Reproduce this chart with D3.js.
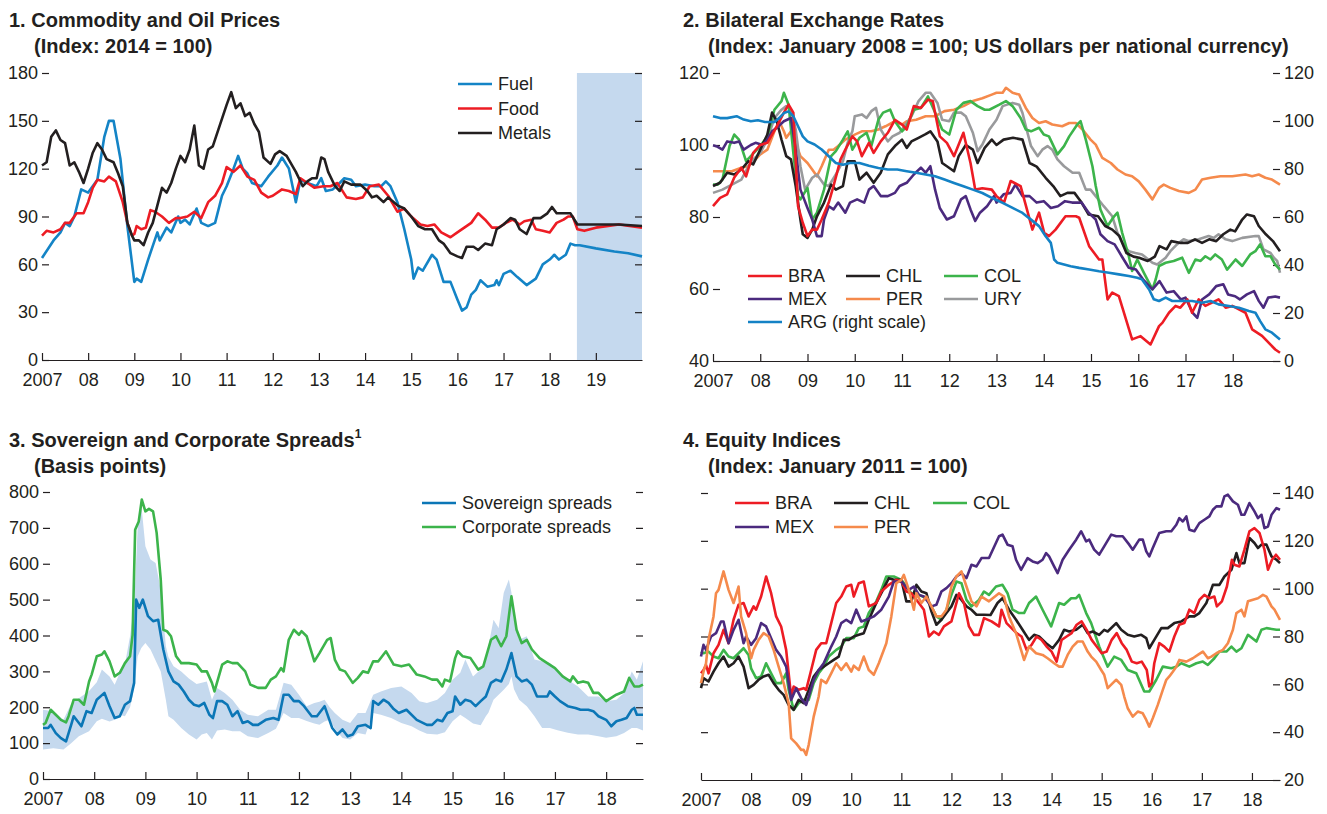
<!DOCTYPE html>
<html>
<head>
<meta charset="utf-8">
<script src="https://cdn.jsdelivr.net/npm/d3@7"></script>
<style>
  body { margin: 0; background: #fff; }
  svg text { font-family: "Liberation Sans", Arial, sans-serif; fill: #231f20; }
</style>
</head>
<body>
<svg id="chart" width="1327" height="814"></svg>
<script>
// ---- Panel 1: commodity prices (index, 2014 = 100) ----
const fuel = [[2007.0,64],[2007.25,75],[2007.4,80],[2007.5,86],[2007.6,84],[2007.7,90],[2007.85,107],[2008.0,105],[2008.2,113],[2008.35,140],[2008.45,150],[2008.55,150],[2008.7,126],[2008.85,84],[2009.0,49],[2009.05,51],[2009.15,49],[2009.3,63],[2009.5,80],[2009.55,75],[2009.7,83],[2009.8,80],[2009.95,90],[2010.0,86],[2010.1,88],[2010.2,85],[2010.35,95],[2010.45,86],[2010.6,84],[2010.75,86],[2010.9,103],[2011.0,109],[2011.15,120],[2011.25,128],[2011.35,120],[2011.45,117],[2011.55,111],[2011.75,109],[2011.9,115],[2012.1,122],[2012.2,127],[2012.35,120],[2012.5,99],[2012.6,113],[2012.75,111],[2012.95,109],[2013.05,114],[2013.15,106],[2013.3,107],[2013.45,111],[2013.55,114],[2013.7,113],[2013.8,109],[2014.0,110],[2014.2,109],[2014.35,109],[2014.45,112],[2014.55,109],[2014.7,99],[2014.85,82],[2015.0,63],[2015.05,51],[2015.15,58],[2015.25,56],[2015.45,66],[2015.55,63],[2015.7,49],[2015.85,49],[2016.0,38],[2016.1,31],[2016.2,33],[2016.3,41],[2016.4,44],[2016.5,50],[2016.65,46],[2016.8,47],[2016.85,50],[2016.9,47],[2017.0,54],[2017.15,56],[2017.3,52],[2017.5,47],[2017.7,51],[2017.85,60],[2018.0,63],[2018.1,66],[2018.2,63],[2018.35,66],[2018.45,73],[2018.55,72],[2018.65,72],[2019.0,70],[2019.4,68],[2019.7,67],[2020.0,65]];
const food = [[2007.0,78],[2007.1,81],[2007.25,80],[2007.4,82],[2007.5,86],[2007.6,86],[2007.75,92],[2007.9,92],[2008.0,99],[2008.1,108],[2008.2,113],[2008.35,112],[2008.45,115],[2008.6,112],[2008.75,99],[2008.85,86],[2008.95,78],[2009.0,79],[2009.05,84],[2009.15,82],[2009.25,83],[2009.35,94],[2009.45,93],[2009.6,90],[2009.75,86],[2009.9,89],[2010.0,89],[2010.15,90],[2010.3,93],[2010.45,89],[2010.6,99],[2010.75,103],[2010.9,111],[2011.0,121],[2011.15,118],[2011.3,122],[2011.45,115],[2011.6,113],[2011.75,105],[2011.9,102],[2012.0,103],[2012.2,107],[2012.35,106],[2012.5,104],[2012.6,114],[2012.75,111],[2012.9,108],[2013.1,109],[2013.25,109],[2013.4,111],[2013.6,102],[2013.8,101],[2013.95,102],[2014.1,109],[2014.3,110],[2014.5,103],[2014.7,93],[2014.85,95],[2015.0,90],[2015.2,85],[2015.35,84],[2015.5,85],[2015.65,80],[2015.85,77],[2016.0,80],[2016.15,83],[2016.3,86],[2016.45,92],[2016.6,88],[2016.75,83],[2016.9,83],[2017.05,86],[2017.2,88],[2017.35,85],[2017.45,87],[2017.6,88],[2017.7,82],[2017.85,81],[2018.0,80],[2018.15,86],[2018.3,88],[2018.4,90],[2018.5,90],[2018.6,82],[2018.75,81],[2019.0,83],[2019.5,85],[2020.0,83]];
const metals = [[2007.0,122],[2007.1,124],[2007.2,140],[2007.3,144],[2007.4,138],[2007.5,136],[2007.6,122],[2007.7,124],[2007.8,118],[2007.9,111],[2008.0,120],[2008.1,130],[2008.2,136],[2008.3,132],[2008.4,126],[2008.55,124],[2008.65,117],[2008.75,109],[2008.85,86],[2008.95,78],[2009.0,75],[2009.1,75],[2009.2,72],[2009.3,80],[2009.4,86],[2009.5,97],[2009.6,108],[2009.7,105],[2009.8,111],[2009.9,120],[2010.0,128],[2010.1,124],[2010.2,132],[2010.3,147],[2010.4,122],[2010.5,120],[2010.6,132],[2010.7,134],[2010.85,147],[2011.0,160],[2011.1,168],[2011.2,158],[2011.3,161],[2011.4,153],[2011.5,155],[2011.6,148],[2011.7,143],[2011.8,127],[2011.95,123],[2012.05,129],[2012.15,131],[2012.3,128],[2012.5,118],[2012.65,109],[2012.75,112],[2012.85,114],[2012.95,114],[2013.05,127],[2013.12,126],[2013.2,118],[2013.35,109],[2013.45,106],[2013.55,112],[2013.7,110],[2013.9,110],[2014.05,106],[2014.15,102],[2014.25,103],[2014.4,99],[2014.5,102],[2014.7,97],[2014.85,95],[2015.0,90],[2015.15,84],[2015.3,82],[2015.45,82],[2015.6,75],[2015.7,73],[2015.85,67],[2016.0,65],[2016.1,64],[2016.2,71],[2016.35,71],[2016.45,69],[2016.6,73],[2016.75,72],[2016.85,82],[2017.0,85],[2017.15,89],[2017.25,88],[2017.35,82],[2017.5,79],[2017.65,89],[2017.8,89],[2017.95,92],[2018.05,96],[2018.15,92],[2018.3,92],[2018.45,92],[2018.6,85],[2019.0,85],[2019.5,85],[2020.0,84]];
const forecastStart = 2018.59;

// ---- Panel 2: exchange rates (left scale) and ARG (right scale) ----
const bra2 = [[2007.0,83],[2007.15,85.3],[2007.3,86.3],[2007.45,91],[2007.6,93.7],[2007.7,91.3],[2007.85,97.8],[2008.0,100],[2008.15,100.6],[2008.35,105.2],[2008.5,109],[2008.6,111.2],[2008.7,109],[2008.8,83],[2008.9,78.4],[2009.0,74.7],[2009.1,76.5],[2009.2,76.5],[2009.3,79.3],[2009.45,84],[2009.55,88.6],[2009.7,96],[2009.8,98.7],[2009.95,102.4],[2010.05,101],[2010.15,96.9],[2010.3,100.6],[2010.4,97.8],[2010.55,101],[2010.7,103.4],[2010.85,107],[2011.0,105.7],[2011.1,104.3],[2011.25,110.8],[2011.4,110.3],[2011.55,112.6],[2011.65,112.2],[2011.8,102.4],[2011.95,100.6],[2012.1,96.9],[2012.3,103.4],[2012.45,95],[2012.55,87.6],[2012.7,88],[2012.9,87.6],[2013.0,85.8],[2013.16,84],[2013.3,90],[2013.51,88.6],[2013.76,76.5],[2013.9,81.2],[2014.01,75.6],[2014.11,74.7],[2014.25,76.5],[2014.46,80.2],[2014.68,80.2],[2014.75,79.8],[2014.96,71.9],[2015.17,68.2],[2015.24,68.2],[2015.35,57.1],[2015.45,59],[2015.59,58],[2015.87,46],[2016.05,46.9],[2016.26,44.6],[2016.44,49.7],[2016.51,50.6],[2016.65,53.4],[2016.79,55.3],[2016.89,54.8],[2017.04,57.1],[2017.14,53.4],[2017.28,57.1],[2017.42,55.3],[2017.56,56.2],[2017.7,57.1],[2017.85,54.8],[2017.99,55.3],[2018.27,53.4],[2018.41,48.8],[2018.62,47],[2018.9,43.2],[2019.0,42.3]];
const chl2 = [[2007.0,88.6],[2007.15,89.5],[2007.3,92.3],[2007.45,91.8],[2007.6,93.2],[2007.75,95.5],[2007.85,94.6],[2008.0,98.7],[2008.15,102.9],[2008.25,109],[2008.35,106.6],[2008.45,101.5],[2008.55,96.9],[2008.65,96],[2008.75,88.6],[2008.85,79.3],[2008.9,75.2],[2009.0,74.2],[2009.1,76.5],[2009.2,80.2],[2009.35,84],[2009.5,89],[2009.6,87.6],[2009.75,88.6],[2009.85,95.5],[2010.0,95.5],[2010.1,90.4],[2010.25,92.3],[2010.4,89.5],[2010.55,92.3],[2010.7,97.4],[2010.85,99.7],[2011.0,101.5],[2011.1,99.2],[2011.2,101],[2011.35,102],[2011.5,103],[2011.6,103.8],[2011.75,101],[2011.85,95],[2011.95,94.1],[2012.1,92.7],[2012.2,96.9],[2012.35,100],[2012.5,98.7],[2012.6,95],[2012.75,99.2],[2012.9,101.5],[2013.0,100],[2013.15,101.5],[2013.35,102],[2013.55,101.5],[2013.7,95],[2013.85,94],[2014.04,90.9],[2014.2,88.6],[2014.35,85.8],[2014.5,86.7],[2014.65,86.7],[2014.8,84],[2014.95,80.7],[2015.15,80.2],[2015.3,77.5],[2015.45,76.5],[2015.6,74.7],[2015.75,70],[2015.9,69],[2016.02,68.7],[2016.2,67.8],[2016.35,69],[2016.45,71.9],[2016.6,71],[2016.7,73.3],[2016.9,72.8],[2017.05,72.8],[2017.2,73.8],[2017.35,72.8],[2017.5,73.8],[2017.65,73.3],[2017.8,75.2],[2017.95,76.5],[2018.05,76],[2018.2,79.3],[2018.3,80.7],[2018.45,80.2],[2018.55,77.5],[2018.7,75.2],[2018.85,73.3],[2019.0,70.5]];
const col2 = [[2007.0,89],[2007.1,89],[2007.2,90.4],[2007.35,99.7],[2007.45,102.9],[2007.55,101.5],[2007.7,95.5],[2007.8,96.9],[2008.0,99.7],[2008.15,102.4],[2008.3,109.8],[2008.45,112.2],[2008.5,114.5],[2008.6,111.2],[2008.7,97.8],[2008.8,85.8],[2008.85,84.9],[2009.0,88.1],[2009.1,79.3],[2009.2,81.2],[2009.35,87.6],[2009.5,96.9],[2009.6,98.3],[2009.75,101.5],[2009.85,103.8],[2009.95,98.7],[2010.1,102],[2010.25,103.4],[2010.35,99.7],[2010.5,107],[2010.6,109],[2010.75,109.8],[2010.85,106.6],[2011.0,103.8],[2011.1,105.2],[2011.25,109.8],[2011.4,110.3],[2011.55,113.5],[2011.7,109],[2011.85,104.3],[2012.0,102.9],[2012.15,109.8],[2012.3,111.7],[2012.45,112.2],[2012.6,110.8],[2012.75,109.8],[2012.85,109.8],[2013.06,111.2],[2013.2,112.2],[2013.34,110.8],[2013.51,107.5],[2013.62,104.3],[2013.73,103.8],[2013.9,104.8],[2014.0,102.9],[2014.11,102.4],[2014.29,97.4],[2014.43,99.7],[2014.54,102.4],[2014.71,105.7],[2014.78,106.6],[2014.89,101.5],[2015.03,94.1],[2015.1,88.6],[2015.2,82.1],[2015.35,77.5],[2015.49,80.2],[2015.56,81.2],[2015.66,75.6],[2015.8,69.1],[2015.87,65],[2015.98,68.2],[2016.12,64.5],[2016.3,59.9],[2016.37,62.7],[2016.44,66.4],[2016.58,67.3],[2016.75,67.8],[2016.93,68.7],[2017.07,64.5],[2017.21,68.2],[2017.32,67.8],[2017.42,69.1],[2017.53,68.2],[2017.63,69.6],[2017.77,68.2],[2017.88,65.4],[2018.06,68.2],[2018.2,66.4],[2018.37,69.6],[2018.48,70.5],[2018.58,72.4],[2018.69,69.1],[2018.8,69.1],[2018.9,66.8],[2019.0,65.4]];
const mex2 = [[2007.0,99.9],[2007.1,99.5],[2007.2,98.7],[2007.3,101],[2007.45,100.6],[2007.55,101],[2007.65,98.7],[2007.8,100],[2007.9,100.6],[2008.05,100],[2008.15,101.5],[2008.25,103.8],[2008.35,104.8],[2008.5,106.6],[2008.65,107.5],[2008.75,98.7],[2008.85,87.6],[2009.0,82.5],[2009.1,79.3],[2009.2,74.7],[2009.3,74.7],[2009.35,79.3],[2009.45,83],[2009.55,82.1],[2009.65,84],[2009.8,81.2],[2009.9,84],[2010.05,84.9],[2010.2,84],[2010.3,87.6],[2010.4,88.6],[2010.55,85.8],[2010.7,85.8],[2010.85,86.7],[2010.95,88.6],[2011.1,89.5],[2011.25,91.8],[2011.4,93.7],[2011.5,92.3],[2011.6,94.1],[2011.7,87.6],[2011.8,82.5],[2011.95,79.3],[2012.1,80.2],[2012.25,84.9],[2012.35,85.8],[2012.45,82.1],[2012.55,78.9],[2012.65,81.2],[2012.8,83],[2012.95,85.8],[2013.0,84],[2013.15,86.3],[2013.3,86.7],[2013.4,89],[2013.55,85.8],[2013.7,85.8],[2013.85,84],[2014.0,84.4],[2014.15,82.5],[2014.3,83],[2014.45,84.4],[2014.6,84],[2014.8,84],[2014.95,81.2],[2015.1,79.3],[2015.2,75.2],[2015.35,73.3],[2015.5,72.4],[2015.65,69.1],[2015.8,65.9],[2015.95,65.4],[2016.1,62.7],[2016.3,59.9],[2016.45,62.2],[2016.6,59],[2016.75,59.4],[2016.9,57.1],[2017.0,57.6],[2017.15,53.4],[2017.25,52],[2017.35,57.1],[2017.5,58.5],[2017.65,60.8],[2017.8,61.3],[2017.9,58.5],[2018.05,58],[2018.15,57.1],[2018.3,58.5],[2018.45,59.4],[2018.55,56.7],[2018.65,54.8],[2018.75,57.6],[2018.9,57.9],[2019.0,57.6]];
const per2 = [[2007.0,92.7],[2007.2,92.7],[2007.4,92.7],[2007.6,93.7],[2007.75,94.1],[2007.9,96],[2008.0,97.4],[2008.15,98.7],[2008.3,103.8],[2008.4,106.6],[2008.5,103.8],[2008.55,102],[2008.65,103.8],[2008.75,100.6],[2008.85,96.9],[2009.0,95],[2009.1,93.2],[2009.2,91.3],[2009.3,94.1],[2009.45,98.7],[2009.55,98.7],[2009.65,99.7],[2009.8,101.5],[2010.0,102.9],[2010.15,103.8],[2010.35,103.8],[2010.5,104.3],[2010.65,105.2],[2010.85,106.6],[2011.0,105.7],[2011.1,106.6],[2011.3,107],[2011.5,108],[2011.7,108],[2011.9,109.4],[2012.1,109.8],[2012.3,110.8],[2012.5,112.2],[2012.7,113],[2012.9,114],[2013.0,114.5],[2013.13,114.5],[2013.2,115.9],[2013.34,114.5],[2013.48,114],[2013.62,110.3],[2013.76,107.5],[2013.9,106.1],[2014.04,106.6],[2014.18,105.7],[2014.39,105.2],[2014.54,106.1],[2014.68,106.1],[2014.82,104.3],[2014.99,101.5],[2015.1,100.1],[2015.24,96.4],[2015.42,95],[2015.56,93.2],[2015.73,91.8],[2015.87,91.3],[2016.01,89.9],[2016.15,87.6],[2016.3,84.9],[2016.44,88.1],[2016.54,89],[2016.68,88.1],[2016.86,87.2],[2017.07,86.7],[2017.21,87.6],[2017.35,90.4],[2017.53,90.9],[2017.74,91.3],[2017.99,91.3],[2018.27,91.8],[2018.41,91.3],[2018.55,91.8],[2018.69,90.9],[2018.83,90.4],[2019.0,89]];
const ury2 = [[2007.0,86.7],[2007.2,87.6],[2007.4,89],[2007.6,90.4],[2007.75,94.1],[2007.85,96],[2008.0,97.8],[2008.15,101.5],[2008.3,107.5],[2008.45,109.8],[2008.55,110.8],[2008.65,109.8],[2008.75,104.3],[2008.85,94.1],[2008.95,87.6],[2009.1,90.9],[2009.2,91.8],[2009.35,89],[2009.45,88.6],[2009.6,91.8],[2009.75,95.5],[2009.85,100.6],[2009.95,103.8],[2010.0,108],[2010.15,108.5],[2010.25,107.5],[2010.35,109.4],[2010.45,110.3],[2010.55,104.3],[2010.7,101],[2010.8,102.4],[2010.95,103.4],[2011.1,106.1],[2011.2,108],[2011.35,112.2],[2011.5,114.5],[2011.6,114.5],[2011.75,111.7],[2011.85,107],[2012.0,106.6],[2012.1,109],[2012.25,109],[2012.35,108],[2012.5,103.4],[2012.6,98.3],[2012.7,100.1],[2012.85,104.3],[2013.0,107],[2013.13,110.8],[2013.34,111.7],[2013.48,111.2],[2013.55,108.9],[2013.62,105.2],[2013.73,99.7],[2013.87,96.9],[2013.97,98.7],[2014.08,99.7],[2014.18,98.7],[2014.29,96],[2014.43,94.1],[2014.61,92.3],[2014.75,92.3],[2014.89,87.6],[2014.99,87.6],[2015.1,85.8],[2015.27,83],[2015.45,80.2],[2015.56,75.6],[2015.7,71.9],[2015.8,70.5],[2015.94,70],[2016.08,69.6],[2016.3,67.3],[2016.4,66.8],[2016.58,68.7],[2016.68,70.5],[2016.82,72.4],[2016.96,73.8],[2017.07,73.3],[2017.28,73.8],[2017.49,74.7],[2017.6,74.2],[2017.7,75.2],[2017.85,73.8],[2017.99,73.3],[2018.2,74.2],[2018.48,74.7],[2018.55,74.7],[2018.65,71],[2018.8,70],[2018.87,68.7],[2018.94,67.8],[2019.0,64.5]];
const arg2 = [[2007.0,102],[2007.15,101.2],[2007.3,101.2],[2007.5,102],[2007.65,100.6],[2007.8,99.9],[2007.95,100.3],[2008.1,99.6],[2008.3,99.6],[2008.4,101.2],[2008.5,103.3],[2008.6,104],[2008.7,102],[2008.8,97.8],[2008.9,93.6],[2009.0,91.5],[2009.15,90.2],[2009.3,88.1],[2009.45,85.3],[2009.6,82.5],[2009.75,81.8],[2009.9,82.5],[2010.1,82.5],[2010.3,81.4],[2010.5,80.4],[2010.7,79.8],[2010.9,79.8],[2011.1,79.1],[2011.3,78.4],[2011.5,77.7],[2011.7,77],[2011.9,75.6],[2012.1,74.2],[2012.3,72.8],[2012.5,71.4],[2012.7,70],[2012.9,68],[2013.13,65.9],[2013.34,63.8],[2013.55,61.7],[2013.73,58.9],[2013.9,56.2],[2014.04,52],[2014.15,49.2],[2014.22,42.3],[2014.29,40.9],[2014.43,40.2],[2014.57,39.5],[2014.75,38.8],[2014.96,38.1],[2015.17,37.4],[2015.38,36.8],[2015.59,36.1],[2015.8,35.4],[2015.98,34.7],[2016.08,34],[2016.23,29.8],[2016.33,25.7],[2016.44,25],[2016.58,26.4],[2016.72,25],[2016.93,25],[2017.14,25],[2017.35,24.3],[2017.53,25],[2017.7,23.6],[2017.92,22.9],[2018.13,22.2],[2018.34,20.8],[2018.48,20.1],[2018.58,16.6],[2018.69,13.2],[2018.83,11.8],[2019.0,9]];

// ---- Panel 3: spreads (basis points) ----
const sovereign = [[2007.0,142],[2007.1,142],[2007.15,151],[2007.25,128],[2007.35,114],[2007.45,105],[2007.55,151],[2007.6,175],[2007.75,147],[2007.85,189],[2007.95,184],[2008.05,221],[2008.2,240],[2008.3,203],[2008.4,170],[2008.5,175],[2008.6,207],[2008.7,217],[2008.78,268],[2008.82,500],[2008.88,477],[2008.95,500],[2009.05,454],[2009.15,440],[2009.25,444],[2009.35,361],[2009.45,300],[2009.55,272],[2009.65,263],[2009.75,244],[2009.85,221],[2009.95,207],[2010.05,203],[2010.15,212],[2010.25,179],[2010.32,170],[2010.4,217],[2010.5,217],[2010.6,207],[2010.7,175],[2010.8,189],[2010.9,156],[2011.0,161],[2011.1,151],[2011.2,151],[2011.35,165],[2011.5,170],[2011.6,165],[2011.7,235],[2011.8,235],[2011.9,217],[2012.0,217],[2012.1,203],[2012.25,175],[2012.35,175],[2012.5,203],[2012.65,142],[2012.75,124],[2012.85,138],[2012.95,119],[2013.05,124],[2013.15,147],[2013.3,151],[2013.4,142],[2013.45,217],[2013.55,207],[2013.65,221],[2013.75,212],[2013.85,195],[2013.95,184],[2014.1,193],[2014.3,165],[2014.5,151],[2014.6,151],[2014.7,165],[2014.8,161],[2014.9,184],[2015.0,189],[2015.05,230],[2015.15,207],[2015.25,221],[2015.35,217],[2015.45,203],[2015.55,217],[2015.65,230],[2015.75,268],[2015.85,277],[2015.95,272],[2016.05,305],[2016.15,351],[2016.25,286],[2016.35,272],[2016.45,277],[2016.55,263],[2016.65,230],[2016.75,230],[2016.85,230],[2016.9,244],[2017.0,230],[2017.1,217],[2017.25,203],[2017.4,198],[2017.5,193],[2017.65,193],[2017.75,189],[2017.85,175],[2018.0,165],[2018.1,147],[2018.2,161],[2018.3,165],[2018.4,170],[2018.5,193],[2018.55,198],[2018.6,179],[2018.72,179]];
const corporate = [[2007.0,151],[2007.05,156],[2007.15,193],[2007.25,179],[2007.35,165],[2007.45,158],[2007.5,175],[2007.6,221],[2007.7,221],[2007.8,207],[2007.9,272],[2007.95,291],[2008.05,342],[2008.15,347],[2008.2,356],[2008.3,328],[2008.4,286],[2008.5,296],[2008.6,323],[2008.7,342],[2008.75,402],[2008.8,695],[2008.87,718],[2008.93,779],[2009.0,746],[2009.07,753],[2009.15,746],[2009.22,686],[2009.3,556],[2009.35,416],[2009.42,412],[2009.5,398],[2009.6,342],[2009.7,323],[2009.85,323],[2010.0,319],[2010.1,300],[2010.2,300],[2010.3,268],[2010.35,244],[2010.5,319],[2010.6,328],[2010.7,323],[2010.8,323],[2010.95,300],[2011.05,263],[2011.2,254],[2011.35,254],[2011.45,277],[2011.55,286],[2011.65,309],[2011.7,300],[2011.8,388],[2011.9,416],[2012.0,402],[2012.05,412],[2012.15,398],[2012.3,328],[2012.4,351],[2012.55,388],[2012.62,393],[2012.7,333],[2012.8,305],[2012.9,300],[2013.05,268],[2013.15,282],[2013.25,300],[2013.35,296],[2013.45,328],[2013.55,328],[2013.7,356],[2013.85,319],[2014.0,314],[2014.15,319],[2014.3,291],[2014.45,286],[2014.6,277],[2014.7,277],[2014.8,258],[2014.85,277],[2014.95,272],[2015.05,337],[2015.1,356],[2015.2,342],[2015.35,337],[2015.5,305],[2015.6,314],[2015.75,388],[2015.85,398],[2015.95,370],[2016.05,398],[2016.15,509],[2016.25,416],[2016.35,379],[2016.45,388],[2016.55,361],[2016.7,337],[2016.85,323],[2017.0,309],[2017.15,286],[2017.3,272],[2017.35,286],[2017.45,268],[2017.55,272],[2017.65,268],[2017.75,240],[2017.85,240],[2018.0,217],[2018.1,226],[2018.2,235],[2018.35,244],[2018.45,282],[2018.55,258],[2018.65,258],[2018.72,263]];
// [date, low, high] of the shaded range
const spreadRange = [[2007.0,82,193],[2007.2,86,189],[2007.4,82,165],[2007.55,100,210],[2007.7,119,225],[2007.9,133,245],[2008.05,161,270],[2008.15,168,305],[2008.3,160,286],[2008.4,165,263],[2008.5,179,296],[2008.6,175,319],[2008.7,200,398],[2008.75,230,450],[2008.78,260,481],[2008.85,342,704],[2008.92,365,765],[2009.0,379,649],[2009.1,361,612],[2009.2,330,602],[2009.3,300,528],[2009.4,220,370],[2009.45,175,340],[2009.55,165,314],[2009.7,142,300],[2009.85,124,280],[2010.0,110,265],[2010.1,124,268],[2010.2,128,272],[2010.3,110,221],[2010.4,135,254],[2010.55,138,240],[2010.7,133,221],[2010.85,133,193],[2011.0,119,179],[2011.2,114,175],[2011.4,128,193],[2011.55,140,193],[2011.7,184,268],[2011.85,170,263],[2012.0,170,235],[2012.15,162,203],[2012.3,155,212],[2012.4,151,215],[2012.5,160,221],[2012.6,165,200],[2012.7,140,184],[2012.85,114,165],[2013.0,110,156],[2013.15,128,184],[2013.3,124,184],[2013.45,184,235],[2013.6,179,244],[2013.8,170,254],[2014.0,156,258],[2014.2,147,240],[2014.35,135,217],[2014.5,126,212],[2014.7,124,221],[2014.85,130,240],[2015.0,161,277],[2015.15,179,296],[2015.25,170,333],[2015.4,155,286],[2015.55,150,305],[2015.65,175,340],[2015.7,185,370],[2015.8,221,444],[2015.9,235,421],[2016.0,249,519],[2016.1,265,556],[2016.15,286,520],[2016.2,250,444],[2016.3,221,388],[2016.45,203,398],[2016.6,175,333],[2016.75,142,328],[2016.9,142,323],[2017.05,136,305],[2017.25,129,277],[2017.45,124,258],[2017.65,124,230],[2017.85,119,230],[2018.0,115,217],[2018.2,119,221],[2018.35,128,240],[2018.5,142,300],[2018.6,142,277],[2018.72,135,328]];

// ---- Panel 4: equity indices (January 2011 = 100) ----
const bra4 = [[2007.0,64.6],[2007.05,66],[2007.1,68.1],[2007.15,64.6],[2007.25,73],[2007.35,76.5],[2007.45,82.8],[2007.55,77.2],[2007.65,87],[2007.75,93.3],[2007.85,94],[2007.95,88.4],[2008.05,92.6],[2008.1,91.2],[2008.2,96.7],[2008.3,105.1],[2008.4,98.1],[2008.5,88.4],[2008.6,84.2],[2008.7,74.4],[2008.8,54.9],[2008.85,59.1],[2008.95,57.7],[2009.05,58.4],[2009.1,57.7],[2009.2,66],[2009.3,74.4],[2009.4,77.2],[2009.5,77.2],[2009.6,85.6],[2009.7,94],[2009.8,96.7],[2009.9,100.9],[2010.0,101.6],[2010.05,96.7],[2010.15,102.3],[2010.25,103],[2010.35,92.6],[2010.5,94],[2010.6,98.8],[2010.75,101.6],[2010.9,103.7],[2011.0,103],[2011.1,98.8],[2011.2,98.1],[2011.35,94],[2011.45,91.2],[2011.55,80],[2011.65,82.1],[2011.75,80.7],[2011.85,84.2],[2012.0,86.3],[2012.1,94],[2012.15,98.1],[2012.25,94],[2012.35,84.2],[2012.45,80.7],[2012.55,80.7],[2012.65,87.7],[2012.8,86.3],[2012.95,84.2],[2013.0,91.2],[2013.1,85.6],[2013.2,83.5],[2013.3,81.4],[2013.4,80],[2013.5,74.4],[2013.6,76.5],[2013.7,80],[2013.8,78.6],[2013.9,75.8],[2014.0,73.7],[2014.1,69.5],[2014.2,78.6],[2014.3,80],[2014.4,81.4],[2014.5,84.9],[2014.6,86.3],[2014.7,82.8],[2014.8,78.6],[2014.9,75.8],[2015.0,73],[2015.1,73.7],[2015.2,78.6],[2015.3,81.4],[2015.4,77.2],[2015.5,74.4],[2015.6,69.5],[2015.7,68.8],[2015.8,69.5],[2015.9,66],[2015.95,59.1],[2016.0,60.5],[2016.05,68.8],[2016.15,77.2],[2016.25,75.8],[2016.35,73.7],[2016.45,80],[2016.55,84.9],[2016.65,85.6],[2016.75,91.2],[2016.85,89.8],[2016.95,95.3],[2017.05,97.4],[2017.15,96],[2017.25,96.7],[2017.3,92.6],[2017.4,94.7],[2017.5,100.9],[2017.6,112.1],[2017.65,110],[2017.75,109.3],[2017.85,116.3],[2017.95,124],[2018.05,125.3],[2018.15,123.3],[2018.25,116.3],[2018.32,107.9],[2018.4,112.1],[2018.48,114.2],[2018.56,112.1]];
const chl4 = [[2007.0,58.4],[2007.05,62.6],[2007.15,61.2],[2007.25,65.3],[2007.35,68.8],[2007.45,71.6],[2007.55,67.4],[2007.65,68.8],[2007.75,71.6],[2007.85,67.4],[2007.95,58.4],[2008.05,59.8],[2008.15,61.9],[2008.25,63.3],[2008.35,64],[2008.45,60.5],[2008.55,57.7],[2008.65,55.6],[2008.75,51.4],[2008.85,49.3],[2008.95,53.5],[2009.05,52.1],[2009.15,57.7],[2009.25,63.3],[2009.35,66],[2009.45,67.4],[2009.55,68.8],[2009.65,70.2],[2009.75,71.6],[2009.85,78.6],[2009.95,78.6],[2010.05,80],[2010.15,80.7],[2010.25,81.4],[2010.35,87],[2010.5,94],[2010.6,98.1],[2010.75,104.4],[2010.85,103.7],[2011.0,103.7],[2011.1,94.7],[2011.2,94.7],[2011.3,101.6],[2011.4,98.8],[2011.5,98.1],[2011.6,90.5],[2011.7,84.9],[2011.8,87],[2011.9,89.8],[2012.0,92.6],[2012.1,97.4],[2012.2,95.3],[2012.3,92.6],[2012.4,91.2],[2012.5,89.1],[2012.65,89.1],[2012.78,89],[2012.92,94],[2013.02,96],[2013.15,91.2],[2013.29,87],[2013.42,82.8],[2013.55,78.6],[2013.65,80.7],[2013.75,80],[2013.89,77.2],[2014.02,75.1],[2014.15,78.6],[2014.25,82.8],[2014.35,82.1],[2014.49,82.8],[2014.62,84.9],[2014.72,81.4],[2014.82,82.1],[2014.95,80.7],[2015.05,82.8],[2015.12,82.1],[2015.29,85.6],[2015.39,82.8],[2015.52,80.7],[2015.65,80],[2015.79,80.7],[2015.89,79.3],[2015.95,75.1],[2016.05,78.6],[2016.19,83.5],[2016.32,83.5],[2016.45,85.6],[2016.59,86.3],[2016.75,88.4],[2016.85,88.4],[2016.95,89.8],[2017.09,94],[2017.22,101.6],[2017.35,101.6],[2017.45,105.1],[2017.59,107.9],[2017.69,114.9],[2017.75,110.7],[2017.85,110.7],[2017.95,121.2],[2018.05,119.1],[2018.12,117],[2018.19,118.4],[2018.29,118.4],[2018.39,113.5],[2018.49,112.1],[2018.56,110.7]];
const col4 = [[2007.0,73.7],[2007.05,73],[2007.15,73.7],[2007.25,71.6],[2007.35,70.9],[2007.45,74.4],[2007.55,71.6],[2007.65,70.9],[2007.75,73],[2007.85,75.1],[2007.95,72.3],[2008.0,66.7],[2008.1,62.6],[2008.2,63.3],[2008.3,68.8],[2008.4,64.6],[2008.5,60.5],[2008.6,60.5],[2008.7,64.6],[2008.75,57.7],[2008.85,49.3],[2008.95,52.1],[2009.05,53.5],[2009.15,53.5],[2009.25,60.5],[2009.35,64.6],[2009.45,67.4],[2009.55,71.6],[2009.7,74.4],[2009.8,75.8],[2009.9,79.3],[2010.05,79.3],[2010.15,83.5],[2010.25,84.2],[2010.35,89.8],[2010.5,94.7],[2010.6,99.5],[2010.7,105.1],[2010.85,105.1],[2011.0,103.7],[2011.1,100.9],[2011.2,98.1],[2011.35,97.4],[2011.5,96],[2011.6,92.6],[2011.7,88.4],[2011.8,87],[2011.9,91.2],[2012.0,97.4],[2012.1,103],[2012.2,102.3],[2012.3,95.3],[2012.4,92.6],[2012.55,95.3],[2012.65,98.8],[2012.75,97.4],[2012.89,100.9],[2013.02,101.6],[2013.12,98.1],[2013.22,91.2],[2013.35,89.8],[2013.45,89.8],[2013.55,94],[2013.69,96.7],[2013.82,91.2],[2013.99,84.2],[2014.15,94],[2014.25,93.3],[2014.39,96],[2014.49,96],[2014.55,97.4],[2014.69,89.8],[2014.79,85.6],[2014.95,75.8],[2015.12,67.4],[2015.25,71.6],[2015.39,70.2],[2015.52,66],[2015.69,64.6],[2015.85,57],[2015.95,57],[2016.09,61.9],[2016.22,67.4],[2016.39,66.7],[2016.49,67.4],[2016.59,68.8],[2016.75,67.4],[2016.89,68.8],[2017.02,69.5],[2017.12,68.1],[2017.25,70.9],[2017.35,73.7],[2017.49,73.7],[2017.59,75.8],[2017.69,73.7],[2017.79,75.1],[2017.92,80.7],[2018.09,77.9],[2018.19,82.8],[2018.29,83.5],[2018.49,82.8],[2018.56,82.8]];
const mex4 = [[2007.0,71.6],[2007.05,76.5],[2007.1,74.4],[2007.2,80],[2007.3,81.4],[2007.4,86.3],[2007.45,86.3],[2007.55,77.2],[2007.65,82.8],[2007.75,87],[2007.85,77.2],[2007.9,80],[2008.0,76.5],[2008.1,79.3],[2008.2,85.6],[2008.3,84.2],[2008.4,79.3],[2008.5,74.4],[2008.6,71.6],[2008.7,67.4],[2008.8,53.5],[2008.9,58.4],[2009.0,54.2],[2009.1,51.4],[2009.15,54.9],[2009.25,61.9],[2009.35,66],[2009.45,68.8],[2009.6,75.8],[2009.7,80],[2009.8,85.6],[2009.9,87],[2010.0,85.6],[2010.1,91.2],[2010.2,86.3],[2010.3,87],[2010.45,88.4],[2010.6,91.2],[2010.75,96.7],[2010.85,103],[2011.0,103],[2011.15,99.5],[2011.25,100.9],[2011.35,97.4],[2011.45,96.7],[2011.6,92.6],[2011.7,93.3],[2011.8,98.8],[2011.9,100.2],[2012.0,102.3],[2012.1,105.1],[2012.2,106.5],[2012.3,104.4],[2012.4,110],[2012.5,109.3],[2012.6,112.8],[2012.75,112.8],[2012.95,121.9],[2013.02,122.6],[2013.12,118.4],[2013.22,117.7],[2013.29,112.1],[2013.39,107.9],[2013.52,112.8],[2013.62,111.4],[2013.72,110.7],[2013.82,112.1],[2013.89,114.9],[2013.95,113.5],[2014.05,109.3],[2014.12,106.5],[2014.22,112.1],[2014.35,116.3],[2014.49,120.5],[2014.59,124],[2014.69,119.8],[2014.75,120.5],[2014.85,116.3],[2014.95,114.2],[2015.05,117.7],[2015.19,122.6],[2015.29,121.9],[2015.42,121.9],[2015.55,118.4],[2015.62,116.3],[2015.75,120.5],[2015.82,120.5],[2015.89,115.6],[2015.95,113.5],[2016.02,117],[2016.15,123.3],[2016.29,124],[2016.39,124],[2016.49,126.7],[2016.55,129.5],[2016.62,128.1],[2016.69,130.2],[2016.75,124.6],[2016.85,124],[2016.95,127.4],[2017.05,128.8],[2017.15,130.2],[2017.22,133],[2017.29,134.4],[2017.39,134.4],[2017.45,138.6],[2017.52,139.3],[2017.62,136.5],[2017.72,135.1],[2017.79,130.9],[2017.85,130.9],[2017.95,135.8],[2018.05,132.3],[2018.12,129.5],[2018.19,130.9],[2018.25,125.3],[2018.32,126],[2018.39,130.9],[2018.49,133.7],[2018.56,133]];
const per4 = [[2007.0,60.5],[2007.05,65.3],[2007.1,68.8],[2007.15,78.6],[2007.25,88.4],[2007.3,98.1],[2007.35,99.5],[2007.45,107.2],[2007.55,99.5],[2007.65,94],[2007.75,100.9],[2007.8,88.4],[2007.9,81.4],[2008.0,70.9],[2008.05,74.4],[2008.15,78.6],[2008.25,81.4],[2008.35,80],[2008.45,74.4],[2008.55,67.4],[2008.65,60.5],[2008.75,52.1],[2008.8,37.4],[2008.9,35.3],[2009.0,32.6],[2009.05,32.6],[2009.1,30.5],[2009.15,34.7],[2009.25,46.5],[2009.35,54.9],[2009.4,61.9],[2009.5,60.5],[2009.6,64.6],[2009.7,68.8],[2009.8,66],[2009.9,68.8],[2010.0,65.3],[2010.05,67.8],[2010.15,66],[2010.25,71.6],[2010.35,66],[2010.45,64],[2010.55,68.8],[2010.7,77.2],[2010.8,88.4],[2010.9,102.3],[2011.0,103.7],[2011.05,105.8],[2011.15,99.5],[2011.25,91.2],[2011.3,98.1],[2011.4,94],[2011.5,96.7],[2011.6,92.6],[2011.7,88.4],[2011.8,88.4],[2011.9,91.2],[2012.0,100.9],[2012.1,105.1],[2012.2,107.2],[2012.3,100.9],[2012.4,94.7],[2012.5,92.6],[2012.6,96.7],[2012.75,94.7],[2012.95,98.1],[2013.05,96.7],[2013.15,88.4],[2013.29,81.4],[2013.39,74.4],[2013.45,70.2],[2013.55,75.8],[2013.69,73],[2013.82,72.3],[2013.92,70.9],[2014.05,68.8],[2014.15,67.4],[2014.22,67.4],[2014.32,72.3],[2014.42,75.8],[2014.52,77.9],[2014.62,77.9],[2014.72,73.7],[2014.79,71.6],[2014.89,69.5],[2014.99,66],[2015.05,64],[2015.12,58.4],[2015.22,60.5],[2015.29,61.9],[2015.39,59.8],[2015.45,54.9],[2015.52,50],[2015.62,46.5],[2015.72,48.6],[2015.82,47.9],[2015.89,45.1],[2015.95,42.3],[2016.02,45.8],[2016.12,51.4],[2016.22,57.7],[2016.29,61.9],[2016.35,63.3],[2016.42,65.3],[2016.49,67.4],[2016.55,70.2],[2016.69,69.5],[2016.82,70.9],[2016.92,72.3],[2017.02,73.7],[2017.12,70.9],[2017.19,71.6],[2017.29,73],[2017.42,74.4],[2017.52,77.2],[2017.62,82.8],[2017.69,89.8],[2017.79,91.2],[2017.85,88.4],[2017.92,94.7],[2018.02,95.4],[2018.12,96],[2018.22,97.4],[2018.29,96.7],[2018.39,92.6],[2018.45,91.2],[2018.56,87]];

const yearTicks = d3.range(2007, 2020);
const yearLabel = d => d === 2007 ? "2007" : d3.format("02d")(d % 100);

const svg = d3.select("#chart");
const ink = "#231f20";
const FS = 18;

function bottomAxis(g, x, y0, lastYear) {
    g.append("g")
        .attr("transform", `translate(0,${y0})`)
        .call(d3.axisBottom(x).tickValues(yearTicks.filter(d => d <= lastYear))
            .tickFormat(yearLabel).tickSize(-7).tickSizeOuter(0).tickPadding(13))
        .call(a => a.selectAll("line,path").attr("stroke", ink).attr("stroke-width", 1.2))
        .call(a => a.selectAll("text").attr("font-size", FS).attr("font-family", null));
}

function sideAxis(g, axisFn, y, xpos, values, labels) {
    g.append("g")
        .attr("transform", `translate(${xpos},0)`)
        .call(axisFn(y).tickValues(values).tickSize(-7).tickPadding(4)
            .tickFormat(labels ? d3.format("d") : ""))
        .call(a => a.select(".domain").remove())
        .call(a => a.selectAll("line").attr("stroke", ink).attr("stroke-width", 1.2))
        .call(a => a.selectAll("text").attr("font-size", FS).attr("font-family", null));
}

function drawLine(g, data, x, y, color) {
    g.append("path")
        .datum(data)
        .attr("fill", "none")
        .attr("stroke", color)
        .attr("stroke-width", 2.6)
        .attr("stroke-linejoin", "round")
        .attr("d", d3.line().x(d => x(d[0])).y(d => y(d[1])));
}

function legend(g, items, x0, y0, colW, rowH, perRow) {
    items.forEach((it, i) => {
        const lx = x0 + (i % perRow) * colW;
        const ly = y0 + Math.floor(i / perRow) * rowH;
        g.append("line").attr("x1", lx).attr("x2", lx + 34).attr("y1", ly).attr("y2", ly)
            .attr("stroke", it.color).attr("stroke-width", 2.6);
        g.append("text").attr("x", lx + 40).attr("y", ly).attr("dy", "0.35em")
            .attr("font-size", FS).text(it.name);
    });
}

function title(x, y, line1, line2) {
    const t = svg.append("text").attr("x", x).attr("y", y)
        .attr("font-size", 20).attr("font-weight", "bold").text(line1);
    svg.append("text").attr("x", x + 25).attr("y", y + 26)
        .attr("font-size", 20).attr("font-weight", "bold").text(line2);
    return t;
}

// ---------------- Panel 1 ----------------
{
    const g = svg.append("g");
    const x = d3.scaleLinear().domain([2007, 2020]).range([42, 642]);
    const y = d3.scaleLinear().domain([0, 180]).range([360, 73]);
    g.append("rect").attr("x", x(forecastStart)).attr("y", y(180))
        .attr("width", x(2020) - x(forecastStart)).attr("height", y(0) - y(180))
        .attr("fill", "#c5d9ee");
    sideAxis(g, d3.axisLeft, y, x(2007), d3.range(0, 181, 30), true);
    sideAxis(g, d3.axisRight, y, x(2020), d3.range(30, 181, 30), false);
    bottomAxis(g, x, y(0), 2019);
    drawLine(g, fuel, x, y, "#1484c6");
    drawLine(g, food, x, y, "#ed1c24");
    drawLine(g, metals, x, y, ink);
    legend(g, [{name: "Fuel", color: "#1484c6"}, {name: "Food", color: "#ed1c24"},
        {name: "Metals", color: ink}], 458, 84, 0, 24.5, 1);
    title(9, 27, "1. Commodity and Oil Prices", "(Index: 2014 = 100)");
}

// ---------------- Panel 2 ----------------
{
    const g = svg.append("g");
    const x = d3.scaleLinear().domain([2007, 2019]).range([713, 1280]);
    const y = d3.scaleLinear().domain([40, 120]).range([361, 73]);
    const yR = d3.scaleLinear().domain([0, 120]).range([361, 73]);
    sideAxis(g, d3.axisLeft, y, x(2007), d3.range(40, 121, 20), true);
    sideAxis(g, d3.axisRight, yR, x(2019), d3.range(0, 121, 20), true);
    bottomAxis(g, x, y(40), 2018);
    const c = {BRA: "#ed1c24", CHL: ink, COL: "#3cb44b", MEX: "#4b2a7e", PER: "#f58a4c", URY: "#999a9c", ARG: "#1482c5"};
    drawLine(g, per2, x, y, c.PER);
    drawLine(g, ury2, x, y, c.URY);
    drawLine(g, col2, x, y, c.COL);
    drawLine(g, chl2, x, y, c.CHL);
    drawLine(g, mex2, x, y, c.MEX);
    drawLine(g, bra2, x, y, c.BRA);
    drawLine(g, arg2, x, yR, c.ARG);
    legend(g, [{name: "BRA", color: c.BRA}, {name: "CHL", color: c.CHL}, {name: "COL", color: c.COL},
        {name: "MEX", color: c.MEX}, {name: "PER", color: c.PER}, {name: "URY", color: c.URY},
        {name: "ARG (right scale)", color: c.ARG}], 748, 276, 98, 23, 3);
    title(683, 27, "2. Bilateral Exchange Rates", "(Index: January 2008 = 100; US dollars per national currency)");
}

// ---------------- Panel 3 ----------------
{
    const g = svg.append("g");
    const x = d3.scaleLinear().domain([2007, 2018.72]).range([43, 643]);
    const y = d3.scaleLinear().domain([0, 800]).range([779, 492]);
    g.append("path").datum(spreadRange).attr("fill", "#c5d9ee")
        .attr("d", d3.area().x(d => x(d[0])).y0(d => y(d[1])).y1(d => y(d[2])));
    sideAxis(g, d3.axisLeft, y, x(2007), d3.range(0, 801, 100), true);
    sideAxis(g, d3.axisRight, y, x(2018.72), d3.range(100, 801, 100), false);
    bottomAxis(g, x, y(0), 2018);
    drawLine(g, corporate, x, y, "#3cb44b");
    drawLine(g, sovereign, x, y, "#0b76b6");
    legend(g, [{name: "Sovereign spreads", color: "#0b76b6"}, {name: "Corporate spreads", color: "#3cb44b"}],
        422, 503, 0, 24, 1);
    const t = title(9, 447, "3. Sovereign and Corporate Spreads", "(Basis points)");
    t.append("tspan").attr("font-size", 12).attr("dy", -9).text("1");
}

// ---------------- Panel 4 ----------------
{
    const g = svg.append("g");
    const x = d3.scaleLinear().domain([2007, 2018.56]).range([701, 1280]);
    const y = d3.scaleLinear().domain([20, 140]).range([780, 493]);
    sideAxis(g, d3.axisLeft, y, x(2007), d3.range(40, 141, 20), false);
    sideAxis(g, d3.axisRight, y, x(2018.56), d3.range(20, 141, 20), true);
    bottomAxis(g, x, y(20), 2018);
    const c = {BRA: "#ed1c24", CHL: ink, COL: "#3cb44b", MEX: "#4b2a7e", PER: "#f58a4c"};
    drawLine(g, col4, x, y, c.COL);
    drawLine(g, chl4, x, y, c.CHL);
    drawLine(g, bra4, x, y, c.BRA);
    drawLine(g, mex4, x, y, c.MEX);
    drawLine(g, per4, x, y, c.PER);
    legend(g, [{name: "BRA", color: c.BRA}, {name: "CHL", color: c.CHL}, {name: "COL", color: c.COL},
        {name: "MEX", color: c.MEX}, {name: "PER", color: c.PER}], 735, 503, 99, 24, 3);
    title(683, 447, "4. Equity Indices", "(Index: January 2011 = 100)");
}
</script>
</body>
</html>
